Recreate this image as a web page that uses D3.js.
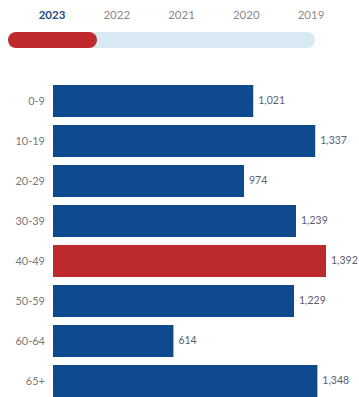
<!DOCTYPE html>
<html>
<head>
<meta charset="utf-8">
<script src="https://cdn.jsdelivr.net/npm/d3@7"></script>
<style>
  body { margin: 0; background: #fff; }
  text { font-family: Lato, "Open Sans", sans-serif; }
</style>
</head>
<body>
<div id="vis"></div>
<script>
var years = ['2023', '2022', '2021', '2020', '2019'];
var ageGroups = ['0-9', '10-19', '20-29', '30-39', '40-49', '50-59', '60-64', '65+'];
var cases = [1021, 1337, 974, 1239, 1392, 1229, 614, 1348];
var highlight = '40-49';

var svgW = 359, svgH = 397;
var svg = d3.select('#vis').append('svg').attr('width', svgW).attr('height', svgH);

// year tabs
var xYear = d3.scalePoint().domain(years).range([52, 311]);
svg.selectAll('.year').data(years).enter().append('text')
  .attr('class', 'year')
  .attr('x', function(d){ return xYear(d); })
  .attr('y', 19)
  .attr('text-anchor', 'middle')
  .style('font-size', '11.5px')
  .style('font-weight', function(d, i){ return i == 0 ? 700 : 400; })
  .style('fill', function(d, i){ return i == 0 ? '#2b4a7e' : '#8a8a8a'; })
  .text(String);

// slider
svg.append('rect').attr('x', 8).attr('y', 32).attr('width', 307).attr('height', 16)
  .attr('rx', 8).style('fill', '#d8e9f4');
svg.append('rect').attr('x', 8).attr('y', 32).attr('width', 89).attr('height', 16)
  .attr('rx', 8).style('fill', '#bf2a2c');

// bars
var x = d3.scaleLinear().domain([0, 1392]).range([53, 326]);
var y = d3.scaleBand().domain(ageGroups).range([81, 401]).paddingInner(0.2).paddingOuter(0.1);
var data = ageGroups.map(function(g, i){ return [g, cases[i]]; });

svg.selectAll('.bar').data(data).enter().append('rect')
  .attr('class', 'bar')
  .attr('x', x(0))
  .attr('y', function(d){ return y(d[0]); })
  .attr('width', function(d){ return x(d[1]) - x(0); })
  .attr('height', y.bandwidth())
  .style('fill', function(d){ return d[0] == highlight ? '#bd2a2b' : '#0f4a8e'; });

svg.selectAll('.barlabel').data(data).enter().append('text')
  .attr('class', 'barlabel')
  .attr('x', function(d){ return x(d[1]) + 5; })
  .attr('y', function(d){ return y(d[0]) + y.bandwidth() / 2 - 1; })
  .attr('dy', '0.35em')
  .style('font-size', '10.5px')
  .style('fill', '#5a6070')
  .text(function(d){ return d3.format(',')(d[1]); });

svg.selectAll('.cat').data(data).enter().append('text')
  .attr('class', 'cat')
  .attr('x', 45)
  .attr('y', function(d){ return y(d[0]) + y.bandwidth() / 2; })
  .attr('dy', '0.35em')
  .attr('text-anchor', 'end')
  .style('font-size', '11px')
  .style('fill', '#7a7a7a')
  .text(function(d){ return d[0]; });
</script>
</body>
</html>
